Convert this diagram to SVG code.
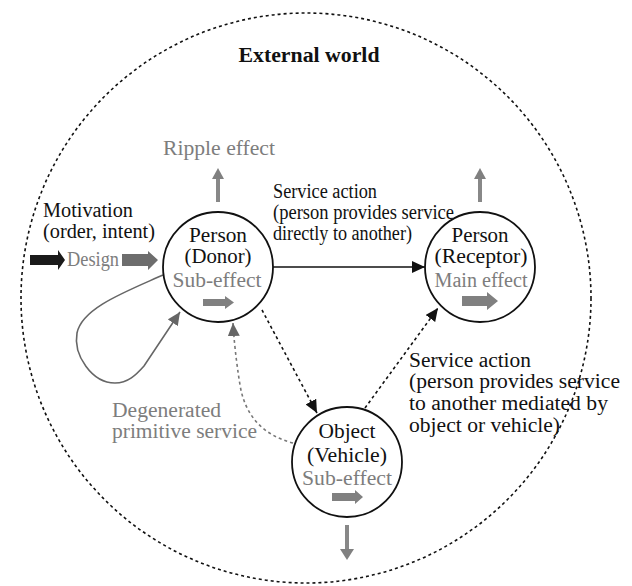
<svg xmlns="http://www.w3.org/2000/svg" width="632" height="586" viewBox="0 0 632 586">
<style>
text{font-family:"Liberation Serif","Times New Roman",serif;font-size:20px;fill:#111}
.g{fill:#7d7d7d}
.b{font-weight:bold;font-size:20.5px}
.m{text-anchor:middle}
.node{fill:#fff;stroke:#111;stroke-width:1.8}
.dot{fill:none;stroke:#111;stroke-width:1.6;stroke-dasharray:3 3}
.gdot{fill:none;stroke:#777;stroke-width:1.6;stroke-dasharray:3 3}
.solid{fill:none;stroke:#111;stroke-width:1.6}
.loop{fill:none;stroke:#666;stroke-width:1.6}
.garr{fill:#808080}
.gline{stroke:#888;stroke-width:4}
</style>
<defs>
<marker id="ab" markerUnits="userSpaceOnUse" markerWidth="14" markerHeight="12" viewBox="0 0 14 12" refX="13" refY="6" orient="auto"><path d="M0,0 L13,6 L0,12 Z" fill="#111"/></marker>
<marker id="ag" markerUnits="userSpaceOnUse" markerWidth="14" markerHeight="12" viewBox="0 0 14 12" refX="13" refY="6" orient="auto"><path d="M0,0 L13,6 L0,12 Z" fill="#666"/></marker>
</defs>

<g id="external-world">
<circle cx="306" cy="298" r="285" fill="none" stroke="#111" stroke-width="1.6" stroke-dasharray="3 3"/>
<text x="309" y="62" class="b m" textLength="141" lengthAdjust="spacingAndGlyphs">External world</text>
</g>

<g id="connectors">
<line class="solid" x1="273" y1="267" x2="425" y2="267" marker-end="url(#ab)"/>
<line class="dot" x1="262" y1="310" x2="317" y2="413" marker-end="url(#ab)"/>
<line class="dot" x1="365" y1="408" x2="438" y2="308" marker-end="url(#ab)"/>
<path class="gdot" d="M293,443 C262,435 245,415 240,385 C236,360 234,340 233,323" marker-end="url(#ag)"/>
<path class="loop" d="M163,275 C125,292 82,308 77,333 C73,355 92,383 115,383 C128,383 136,375 144,366 L180,312" marker-end="url(#ag)"/>
</g>

<g id="ripple">
<text x="163" y="155" class="g" textLength="112" lengthAdjust="spacingAndGlyphs">Ripple effect</text>
<line class="gline" x1="218" y1="202" x2="218" y2="177"/>
<path class="garr" d="M212,179 L218,168 L224,179 Z"/>
</g>

<g id="receptor-up">
<line class="gline" x1="480" y1="202" x2="480" y2="177"/>
<path class="garr" d="M474,179 L480,168 L486,179 Z"/>
</g>

<g id="object-down">
<line class="gline" x1="347" y1="525" x2="347" y2="551"/>
<path class="garr" d="M340,549 L347,560 L354,549 Z"/>
</g>

<g id="service-action-direct">
<text x="273" y="198" textLength="104" lengthAdjust="spacingAndGlyphs">Service action</text>
<text x="273" y="219" textLength="181" lengthAdjust="spacingAndGlyphs">(person provides service</text>
<text x="273" y="240" textLength="139" lengthAdjust="spacingAndGlyphs">directly to another)</text>
</g>

<g id="motivation">
<text x="43" y="217" textLength="90" lengthAdjust="spacingAndGlyphs">Motivation</text>
<text x="43" y="238" textLength="112" lengthAdjust="spacingAndGlyphs">(order, intent)</text>
<path d="M30,255 L58,255 L58,250 L65,260 L58,270 L58,265 L30,265 Z" fill="#1a1a1a"/>
<text x="67" y="266" class="g" textLength="52" lengthAdjust="spacingAndGlyphs">Design</text>
<path d="M122,254 L148,254 L148,251 L158,260 L148,270 L148,266 L122,266 Z" fill="#6d6d6d"/>
</g>

<g id="donor">
<circle class="node" cx="218" cy="267" r="55"/>
<text x="218" y="242" class="m" textLength="58" lengthAdjust="spacingAndGlyphs">Person</text>
<text x="218" y="263" class="m" textLength="67" lengthAdjust="spacingAndGlyphs">(Donor)</text>
<text x="217" y="287" class="m g" textLength="89" lengthAdjust="spacingAndGlyphs">Sub-effect</text>
<path class="garr" d="M203,299 L225,299 L225,296 L234,302.5 L225,309 L225,306 L203,306 Z"/>
</g>

<g id="receptor">
<circle class="node" cx="480" cy="267" r="55"/>
<text x="480" y="242" class="m" textLength="57" lengthAdjust="spacingAndGlyphs">Person</text>
<text x="481" y="263" class="m" textLength="93" lengthAdjust="spacingAndGlyphs">(Receptor)</text>
<text x="481" y="287" class="m g" textLength="93" lengthAdjust="spacingAndGlyphs">Main effect</text>
<path class="garr" d="M462,296 L487,296 L487,292 L498,301 L487,310 L487,306 L462,306 Z"/>
</g>

<g id="object">
<circle class="node" cx="347" cy="462" r="55"/>
<text x="347" y="438" class="m" textLength="57" lengthAdjust="spacingAndGlyphs">Object</text>
<text x="347" y="462" class="m" textLength="80" lengthAdjust="spacingAndGlyphs">(Vehicle)</text>
<text x="347" y="485" class="m g" textLength="90" lengthAdjust="spacingAndGlyphs">Sub-effect</text>
<path class="garr" d="M332,493 L355,493 L355,490 L363,497 L355,504 L355,501 L332,501 Z"/>
</g>

<g id="service-action-mediated">
<text x="409" y="367" textLength="122" lengthAdjust="spacingAndGlyphs">Service action</text>
<text x="409" y="388" textLength="211" lengthAdjust="spacingAndGlyphs">(person provides service</text>
<text x="409" y="410" textLength="199" lengthAdjust="spacingAndGlyphs">to another mediated by</text>
<text x="409" y="432" textLength="151" lengthAdjust="spacingAndGlyphs">object or vehicle)</text>
</g>

<g id="degenerated">
<text x="112" y="417" class="g" textLength="109" lengthAdjust="spacingAndGlyphs">Degenerated</text>
<text x="112" y="438" class="g" textLength="145" lengthAdjust="spacingAndGlyphs">primitive service</text>
</g>
</svg>
